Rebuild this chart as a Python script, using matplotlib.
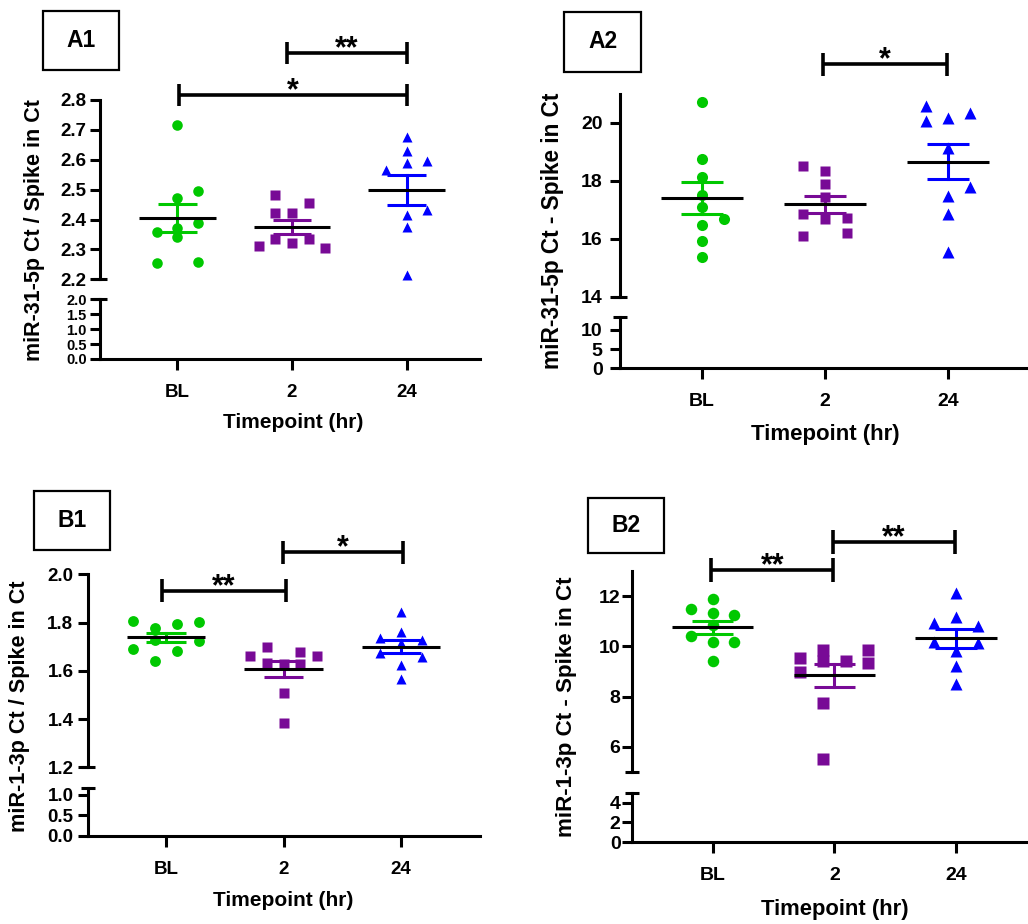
import numpy as np
import matplotlib.pyplot as plt
from matplotlib.patches import Rectangle

plt.rcParams['font.family'] = ['Liberation Sans', 'DejaVu Sans']
plt.rcParams['font.weight'] = 'bold'

W, H = 1028, 924

timepoints = ['BL', '2', '24']
group_colors = ['#00C800', '#780A96', '#0000FF']
group_markers = ['o', 's', '^']

# A1: miR-31-5p Ct / Spike in Ct
a1_bl = [2.716, 2.496, 2.471, 2.389, 2.358, 2.371, 2.340, 2.253, 2.257]
a1_2h = [2.482, 2.456, 2.421, 2.421, 2.334, 2.320, 2.334, 2.311, 2.304]
a1_24h = [2.677, 2.630, 2.590, 2.566, 2.597, 2.432, 2.415, 2.376, 2.214]
a1_cols = [[0, 1, 0, 1, -1, 0, 0, -1, 1],
           [-1, 1, -1, 0, -1, 0, 1, -2, 2],
           [0, 0, 0, -1, 1, 1, 0, 0, 0]]

# A2: miR-31-5p Ct - Spike in Ct
a2_bl = [20.70, 18.74, 18.12, 17.51, 17.10, 16.67, 16.47, 15.92, 15.38]
a2_2h = [18.51, 18.33, 17.89, 17.45, 16.85, 16.67, 16.70, 16.10, 16.19]
a2_24h = [20.59, 20.06, 20.15, 20.32, 19.12, 17.79, 17.47, 16.85, 15.53]
a2_cols = [[0, 0, 0, 0, 0, 1, 0, 0, 0],
           [-1, 0, 0, 0, -1, 0, 1, -1, 1],
           [-1, -1, 0, 1, 0, 1, 0, 0, 0]]

# B1: miR-1-3p Ct / Spike in Ct
b1_bl = [1.808, 1.776, 1.794, 1.804, 1.728, 1.689, 1.683, 1.724, 1.642]
b1_2h = [1.697, 1.661, 1.679, 1.661, 1.634, 1.628, 1.628, 1.509, 1.382]
b1_24h = [1.845, 1.762, 1.735, 1.728, 1.714, 1.673, 1.658, 1.624, 1.566]
b1_cols = [[-1.5, -0.5, 0.5, 1.5, -0.5, -1.5, 0.5, 1.5, -0.5],
           [-1, -2, 1, 2, -1, 0, 1, 0, 0],
           [0, 0, -1, 1, 0, -1, 1, 0, 0]]

# B2: miR-1-3p Ct - Spike in Ct
b2_bl = [11.89, 11.47, 11.31, 11.23, 10.85, 10.40, 10.16, 10.17, 9.40]
b2_2h = [9.53, 9.84, 9.40, 9.43, 9.84, 9.33, 9.00, 7.73, 5.53]
b2_24h = [12.13, 11.17, 10.93, 10.83, 10.16, 10.13, 9.80, 9.20, 8.51]
b2_cols = [[0, -1, 0, 1, 0, -1, 0, 1, 0],
           [-1.5, -0.5, -0.5, 0.5, 1.5, 1.5, -1.5, -0.5, -0.5],
           [0, 0, -1, 1, -1, 1, 0, 0, 0]]

fig = plt.figure(figsize=(W / 100, H / 100), dpi=100)


def px_axes(x0, y0, x1, y1):
    return fig.add_axes([x0 / W, 1 - y1 / H, (x1 - x0) / W, (y1 - y0) / H])


def style_axis(ax, tick_fs, ypad):
    for s in ['top', 'right', 'bottom']:
        ax.spines[s].set_visible(False)
    ax.spines['left'].set_linewidth(2.2)
    ax.tick_params(axis='y', width=2.2, length=7.5, labelsize=tick_fs, pad=ypad)
    ax.set_facecolor('none')


def cap(ax, yfrac, half_px, width_px):
    d = half_px / width_px
    ax.plot([-d, d], [yfrac, yfrac], color='k', lw=2.2,
            transform=ax.transAxes, clip_on=False, solid_capstyle='butt')


def draw_panel(p):
    x0, x1 = p['x0'], p['x1']
    c0, sp = p['c0'], p['sp']
    xlim = ((x0 - c0) / sp, (x1 - c0) / sp)

    # upper segment
    ut, ub = p['upper_px']
    up = px_axes(x0, ut, x1, ub)
    style_axis(up, p['tick_fs'], p['ypad'])
    up.set_xlim(*xlim)
    up.set_ylim(*p['upper_lim'])
    up.set_yticks(p['upper_ticks'])
    up.set_yticklabels([p['fmt'].format(t) for t in p['upper_ticks']])
    up.set_xticks([])
    cap(up, 0, 7, x1 - x0)

    for i, (vals, cols) in enumerate(zip(p['groups'], p['cols'])):
        v = np.array(vals)
        x = i + np.array(cols) * p['col_w'][i]
        up.plot(x, v, ls='none', marker=group_markers[i], ms=p['ms'][i],
                color=group_colors[i], mec='none', clip_on=False, zorder=3)
        m = v.mean()
        se = v.std(ddof=1) / np.sqrt(len(v))
        for yy in (m - se, m + se):
            up.plot([i - 0.17, i + 0.17], [yy, yy], color=group_colors[i],
                    lw=2.2, zorder=4, solid_capstyle='butt')
        up.plot([i, i], [m - se, m + se], color=group_colors[i], lw=2.2, zorder=4)
        up.plot([i - 0.335, i + 0.335], [m, m], color='k', lw=2.2, zorder=5,
                solid_capstyle='butt')

    # significance brackets
    for a, b, lvl, half, label in p['brackets']:
        up.plot([a, b], [lvl, lvl], color='k', lw=2.6, clip_on=False,
                solid_capstyle='butt')
        for xx in (a, b):
            up.plot([xx, xx], [lvl - half, lvl + half], color='k', lw=2.6,
                    clip_on=False, solid_capstyle='butt')
        up.annotate(label, ((a + b) / 2, lvl), xytext=(0, -3),
                    textcoords='offset points', ha='center', va='baseline',
                    fontsize=22, annotation_clip=False)

    # lower segment
    lt, lb = p['lower_px']
    lo = px_axes(x0, lt, x1, lb)
    style_axis(lo, p['lower_fs'], p['ypad'])
    lo.spines['bottom'].set_visible(True)
    lo.spines['bottom'].set_linewidth(2.2)
    lo.set_xlim(*xlim)
    lo.set_ylim(*p['lower_lim'])
    lo.set_yticks(p['lower_ticks'])
    lo.set_yticklabels([p['lfmt'].format(t) for t in p['lower_ticks']])
    lo.set_xticks(range(len(timepoints)))
    lo.set_xticklabels(timepoints)
    lo.tick_params(axis='x', width=2.2, length=8, labelsize=p['tick_fs'],
                   pad=p['xpad'])
    cap(lo, 1, 7, x1 - x0)

    # labels
    yx, yy = p['ylabel_xy']
    fig.text(yx / W, 1 - yy / H, p['ylabel'], rotation=90, ha='center',
             va='center', fontsize=p['ylabel_fs'])
    xx, xy = p['xlabel_xy']
    fig.text(xx / W, 1 - xy / H, 'Timepoint (hr)', ha='center', va='center',
             fontsize=p['xlabel_fs'])

    bx0, by0, bx1, by1 = p['box']
    fig.add_artist(Rectangle((bx0 / W, 1 - by1 / H), (bx1 - bx0) / W,
                             (by1 - by0) / H, transform=fig.transFigure,
                             fill=False, lw=1.6, ec='k'))
    fig.text((bx0 + bx1) / 2 / W, 1 - (by0 + by1) / 2 / H, p['name'],
             ha='center', va='center', fontsize=16.5)


panels = [
    dict(name='A1', groups=[a1_bl, a1_2h, a1_24h], cols=a1_cols,
         col_w=[0.18, 0.145, 0.18], ms=[7.6, 7.2, 7.8],
         x0=100, x1=480, c0=177.3, sp=114.7,
         upper_px=(100, 279.3), upper_lim=(2.2, 2.8),
         upper_ticks=[2.2, 2.3, 2.4, 2.5, 2.6, 2.7, 2.8], fmt='{:.1f}',
         lower_px=(299.3, 359), lower_lim=(0, 2.0),
         lower_ticks=[0, 0.5, 1.0, 1.5, 2.0], lfmt='{:.1f}',
         brackets=[(0.955, 2.0, 2.957, 0.037, '**'),
                   (0.015, 2.0, 2.817, 0.037, '*')],
         ylabel='miR-31-5p Ct / Spike in Ct', ylabel_xy=(35, 230),
         xlabel_xy=(293, 422), box=(43, 11, 119, 70),
         tick_fs=13.5, lower_fs=10.5, ylabel_fs=15.5, xlabel_fs=15,
         ypad=2, xpad=10),
    dict(name='A2', groups=[a2_bl, a2_2h, a2_24h], cols=a2_cols,
         col_w=[0.176, 0.176, 0.176], ms=[8.0, 7.8, 8.0],
         x0=620, x1=1028, c0=702, sp=123,
         upper_px=(93.7, 296.7), upper_lim=(14, 21),
         upper_ticks=[14, 16, 18, 20], fmt='{:.0f}',
         lower_px=(317.3, 368.3), lower_lim=(0, 13.3),
         lower_ticks=[0, 5, 10], lfmt='{:.0f}',
         brackets=[(0.98, 1.99, 22.01, 0.41, '*')],
         ylabel='miR-31-5p Ct - Spike in Ct', ylabel_xy=(553, 231),
         xlabel_xy=(825, 435), box=(564, 12, 641, 72),
         tick_fs=14, lower_fs=14, ylabel_fs=16.3, xlabel_fs=16,
         ypad=5, xpad=10),
    dict(name='B1', groups=[b1_bl, b1_2h, b1_24h], cols=b1_cols,
         col_w=[0.19, 0.142, 0.18], ms=[7.8, 7.2, 7.8],
         x0=88, x1=480, c0=166, sp=117.5,
         upper_px=(574.3, 767.3), upper_lim=(1.2, 2.0),
         upper_ticks=[1.2, 1.4, 1.6, 1.8, 2.0], fmt='{:.1f}',
         lower_px=(788, 835.7), lower_lim=(0, 1.17),
         lower_ticks=[0, 0.5, 1.0], lfmt='{:.1f}',
         brackets=[(-0.03, 1.02, 1.932, 0.048, '**'),
                   (0.995, 2.017, 2.091, 0.048, '*')],
         ylabel='miR-1-3p Ct / Spike in Ct', ylabel_xy=(20, 706),
         xlabel_xy=(283, 900), box=(34, 491, 110, 550),
         tick_fs=13.5, lower_fs=13.5, ylabel_fs=15.6, xlabel_fs=15,
         ypad=3, xpad=10),
    dict(name='B2', groups=[b2_bl, b2_2h, b2_24h], cols=b2_cols,
         col_w=[0.178, 0.186, 0.178], ms=[8.3, 8.0, 8.3],
         x0=631.7, x1=1028, c0=712.7, sp=121.7,
         upper_px=(571, 772), upper_lim=(5, 13),
         upper_ticks=[6, 8, 10, 12], fmt='{:.0f}',
         lower_px=(792.7, 842.3), lower_lim=(0, 5),
         lower_ticks=[0, 2, 4], lfmt='{:.0f}',
         brackets=[(-0.01, 0.99, 13.04, 0.48, '**'),
                   (0.986, 1.99, 14.15, 0.48, '**')],
         ylabel='miR-1-3p Ct - Spike in Ct', ylabel_xy=(566.7, 707),
         xlabel_xy=(835, 910), box=(588, 498, 664, 553),
         tick_fs=14, lower_fs=14, ylabel_fs=16.1, xlabel_fs=15.8,
         ypad=0.5, xpad=10),
]

for p in panels:
    draw_panel(p)

fig.savefig('out.png', dpi=100)
